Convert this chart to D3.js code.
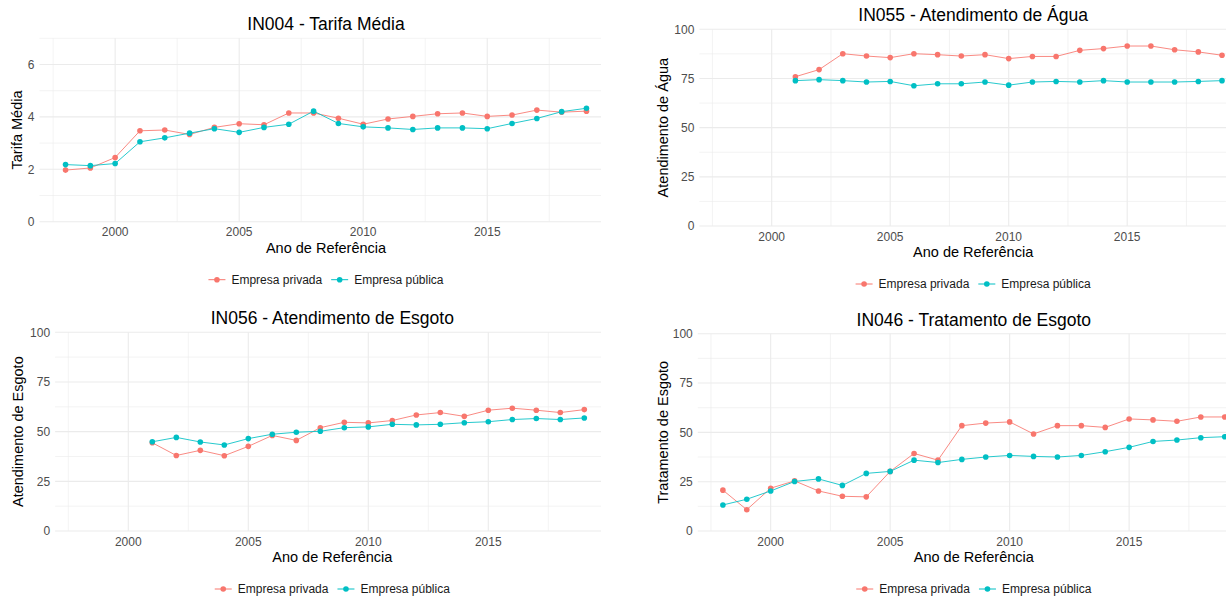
<!doctype html>
<head>
  <meta charset="utf-8">
  <script src="https://cdnjs.cloudflare.com/ajax/libs/d3/7.8.2/d3.min.js"></script>
</head>
<style>
    body { margin: 0; background: white; }
    svg { display: block; font-family: "Liberation Sans", Arial, sans-serif; }
</style>
<body>
    <svg id="chart" width="1226" height="598"></svg>
    <script>
        // Dados
        const years = [1998, 1999, 2000, 2001, 2002, 2003, 2004, 2005, 2006, 2007, 2008,
                       2009, 2010, 2011, 2012, 2013, 2014, 2015, 2016, 2017, 2018, 2019];

        const tarifaPrivada = [1.97, 2.05, 2.45, 3.47, 3.5, 3.33, 3.6, 3.74, 3.7, 4.15, 4.15,
                               3.95, 3.72, 3.92, 4.02, 4.12, 4.15, 4.02, 4.07, 4.26, 4.18, 4.22];
        const tarifaPublica = [2.18, 2.14, 2.22, 3.05, 3.2, 3.38, 3.55, 3.41, 3.6, 3.72, 4.22,
                               3.75, 3.62, 3.58, 3.52, 3.58, 3.58, 3.55, 3.75, 3.94, 4.2, 4.33];

        const aguaPrivada = [null, null, null, 75.9, 79.5, 87.6, 86.4, 85.6, 87.6, 87.1, 86.4,
                             87.1, 85.1, 86.2, 86.2, 89.3, 90.2, 91.5, 91.5, 89.6, 88.5, 86.8];
        const aguaPublica = [null, null, null, 73.9, 74.4, 73.9, 73.2, 73.5, 71.3, 72.3, 72.3,
                             73.2, 71.6, 73.2, 73.5, 73.2, 73.9, 73.2, 73.2, 73.2, 73.5, 73.9];

        const esgotoPrivada = [null, null, null, 44.4, 38.0, 40.6, 37.9, 42.6, 48.1, 45.6, 52.0,
                               54.7, 54.4, 55.6, 58.4, 59.6, 57.7, 60.8, 61.8, 60.8, 59.6, 61.1];
        const esgotoPublica = [null, null, null, 44.9, 47.1, 44.8, 43.3, 46.5, 48.7, 49.7, 50.2,
                               52.0, 52.4, 53.7, 53.4, 53.7, 54.5, 55.0, 56.1, 56.6, 56.1, 56.9];

        const tratamentoPrivada = [20.7, 10.8, 21.7, 25.4, 20.3, 17.6, 17.3, 30.2, 39.3, 35.9, 53.4,
                                   54.7, 55.3, 49.2, 53.4, 53.4, 52.5, 56.8, 56.3, 55.6, 57.8, 57.8];
        const tratamentoPublica = [13.2, 16.1, 20.3, 25.1, 26.4, 23.1, 29.2, 30.2, 35.9, 34.7, 36.3,
                                   37.5, 38.3, 37.8, 37.5, 38.3, 40.2, 42.4, 45.4, 46.1, 47.3, 47.8];

        const seriesNames = ["Empresa privada", "Empresa pública"];
        const seriesColors = ["#F8766D", "#00BFC4"];

        const xTicks = [2000, 2005, 2010, 2015];
        const xMinor = [1997.5, 2002.5, 2007.5, 2012.5, 2017.5];
        const yTicksTarifa = [0, 2, 4, 6];
        const yMinorTarifa = [1, 3, 5, 7];
        const yTicksPct = [0, 25, 50, 75, 100];
        const yMinorPct = [12.5, 37.5, 62.5, 87.5];

        const svg = d3.select("#chart");

        /**
         * Cria um painel de linhas no estilo ggplot theme_minimal
         */
        function createLineChart(opts) {
            const { id, title, yTitle, priv, publ, yMax, yTicks, yMinor,
                    left, right, top, bottom, clipRight, yTitleX } = opts;

            const x = d3.scaleLinear()
                .domain([1998 - 21 * 0.05, 2019 + 21 * 0.05])
                .range([left, right]);
            const y = d3.scaleLinear().domain([0, yMax]).range([bottom, top]);

            svg.append("clipPath").attr("id", "clip-" + id)
                .append("rect")
                .attr("x", left - 5).attr("y", top - 5)
                .attr("width", clipRight - left + 5).attr("height", bottom - top + 10);

            const g = svg.append("g").attr("clip-path", `url(#clip-${id})`);

            // grades secundárias
            g.selectAll(".ymin").data(yMinor).enter().append("line")
                .attr("x1", left).attr("x2", right)
                .attr("y1", d => y(d)).attr("y2", d => y(d))
                .attr("stroke", "#ebebeb").attr("stroke-width", 0.6);
            g.selectAll(".xmin").data(xMinor).enter().append("line")
                .attr("x1", d => x(d)).attr("x2", d => x(d))
                .attr("y1", top).attr("y2", bottom)
                .attr("stroke", "#ebebeb").attr("stroke-width", 0.6);
            // grades principais
            g.selectAll(".ymaj").data(yTicks).enter().append("line")
                .attr("x1", left).attr("x2", right)
                .attr("y1", d => y(d)).attr("y2", d => y(d))
                .attr("stroke", "#ebebeb").attr("stroke-width", 1.1);
            g.selectAll(".xmaj").data(xTicks).enter().append("line")
                .attr("x1", d => x(d)).attr("x2", d => x(d))
                .attr("y1", top).attr("y2", bottom)
                .attr("stroke", "#ebebeb").attr("stroke-width", 1.1);

            const series = [priv, publ].map((vals, i) => ({
                name: seriesNames[i],
                color: seriesColors[i],
                values: years.map((yr, j) => ({ yr, v: vals[j] })).filter(d => d.v !== null)
            }));

            const line = d3.line().x(d => x(d.yr)).y(d => y(d.v));

            g.selectAll(".serie").data(series).enter().append("path")
                .attr("d", d => line(d.values))
                .attr("fill", "none")
                .attr("stroke", d => d.color)
                .attr("stroke-width", 1)
                .attr("stroke-opacity", 0.85);

            series.forEach(s => {
                g.selectAll(null).data(s.values).enter().append("circle")
                    .attr("cx", d => x(d.yr)).attr("cy", d => y(d.v))
                    .attr("r", 2.8).attr("fill", s.color);
            });

            // rótulos dos eixos
            svg.append("g").selectAll("text").data(yTicks).enter().append("text")
                .attr("x", left - 5).attr("y", d => y(d))
                .attr("dy", "0.35em").attr("text-anchor", "end")
                .attr("font-size", 12).attr("fill", "#4d4d4d")
                .text(d => d);
            svg.append("g").selectAll("text").data(xTicks).enter().append("text")
                .attr("x", d => x(d)).attr("y", bottom + 10.5)
                .attr("dy", "0.35em").attr("text-anchor", "middle")
                .attr("font-size", 12).attr("fill", "#4d4d4d")
                .text(d => d);

            const cx = (left + right) / 2;

            svg.append("text")
                .attr("x", cx).attr("y", top - 14).attr("dy", "0.35em")
                .attr("text-anchor", "middle").attr("font-size", 17.5).attr("fill", "#000")
                .text(title);

            svg.append("text")
                .attr("x", cx).attr("y", bottom + 26).attr("dy", "0.35em")
                .attr("text-anchor", "middle").attr("font-size", 14.5).attr("fill", "#000")
                .text("Ano de Referência");

            svg.append("text")
                .attr("transform", `translate(${yTitleX},${(top + bottom) / 2}) rotate(-90)`)
                .attr("dy", "0.35em")
                .attr("text-anchor", "middle").attr("font-size", 14.5).attr("fill", "#000")
                .text(yTitle);

            // legenda
            const leg = svg.append("g");
            let pos = 0;
            series.forEach(s => {
                const item = leg.append("g").attr("transform", `translate(${pos},0)`);
                item.append("line").attr("x1", 0).attr("x2", 17).attr("y1", 0).attr("y2", 0)
                    .attr("stroke", s.color).attr("stroke-width", 1);
                item.append("circle").attr("cx", 8.5).attr("cy", 0).attr("r", 2.8).attr("fill", s.color);
                const t = item.append("text").attr("x", 23).attr("dy", "0.35em")
                    .attr("font-size", 12).attr("fill", "#1a1a1a").text(s.name);
                pos += 23 + t.node().getComputedTextLength() + 9;
            });
            const legW = pos - 9;
            leg.attr("transform", `translate(${cx - legW / 2},${bottom + 58})`);
        }

        createLineChart({ id: "p1", title: "IN004 - Tarifa Média", yTitle: "Tarifa Média",
            priv: tarifaPrivada, publ: tarifaPublica, yMax: 7, yTicks: yTicksTarifa, yMinor: yMinorTarifa,
            left: 39.5, right: 612.5, top: 38.3, bottom: 221.7, clipRight: 601, yTitleX: 17 });

        createLineChart({ id: "p2", title: "IN055 - Atendimento de Água", yTitle: "Atendimento de Água",
            priv: aguaPrivada, publ: aguaPublica, yMax: 100, yTicks: yTicksPct, yMinor: yMinorPct,
            left: 699.4, right: 1246.9, top: 29.3, bottom: 226, clipRight: 1226, yTitleX: 663 });

        createLineChart({ id: "p3", title: "IN056 - Atendimento de Esgoto", yTitle: "Atendimento de Esgoto",
            priv: esgotoPrivada, publ: esgotoPublica, yMax: 100, yTicks: yTicksPct, yMinor: yMinorPct,
            left: 55.1, right: 609.5, top: 332.3, bottom: 531, clipRight: 601, yTitleX: 18 });

        createLineChart({ id: "p4", title: "IN046 - Tratamento de Esgoto", yTitle: "Tratamento de Esgoto",
            priv: tratamentoPrivada, publ: tratamentoPublica, yMax: 100, yTicks: yTicksPct, yMinor: yMinorPct,
            left: 697.8, right: 1249.8, top: 333.7, bottom: 531, clipRight: 1226, yTitleX: 663 });
    </script>
</body>
